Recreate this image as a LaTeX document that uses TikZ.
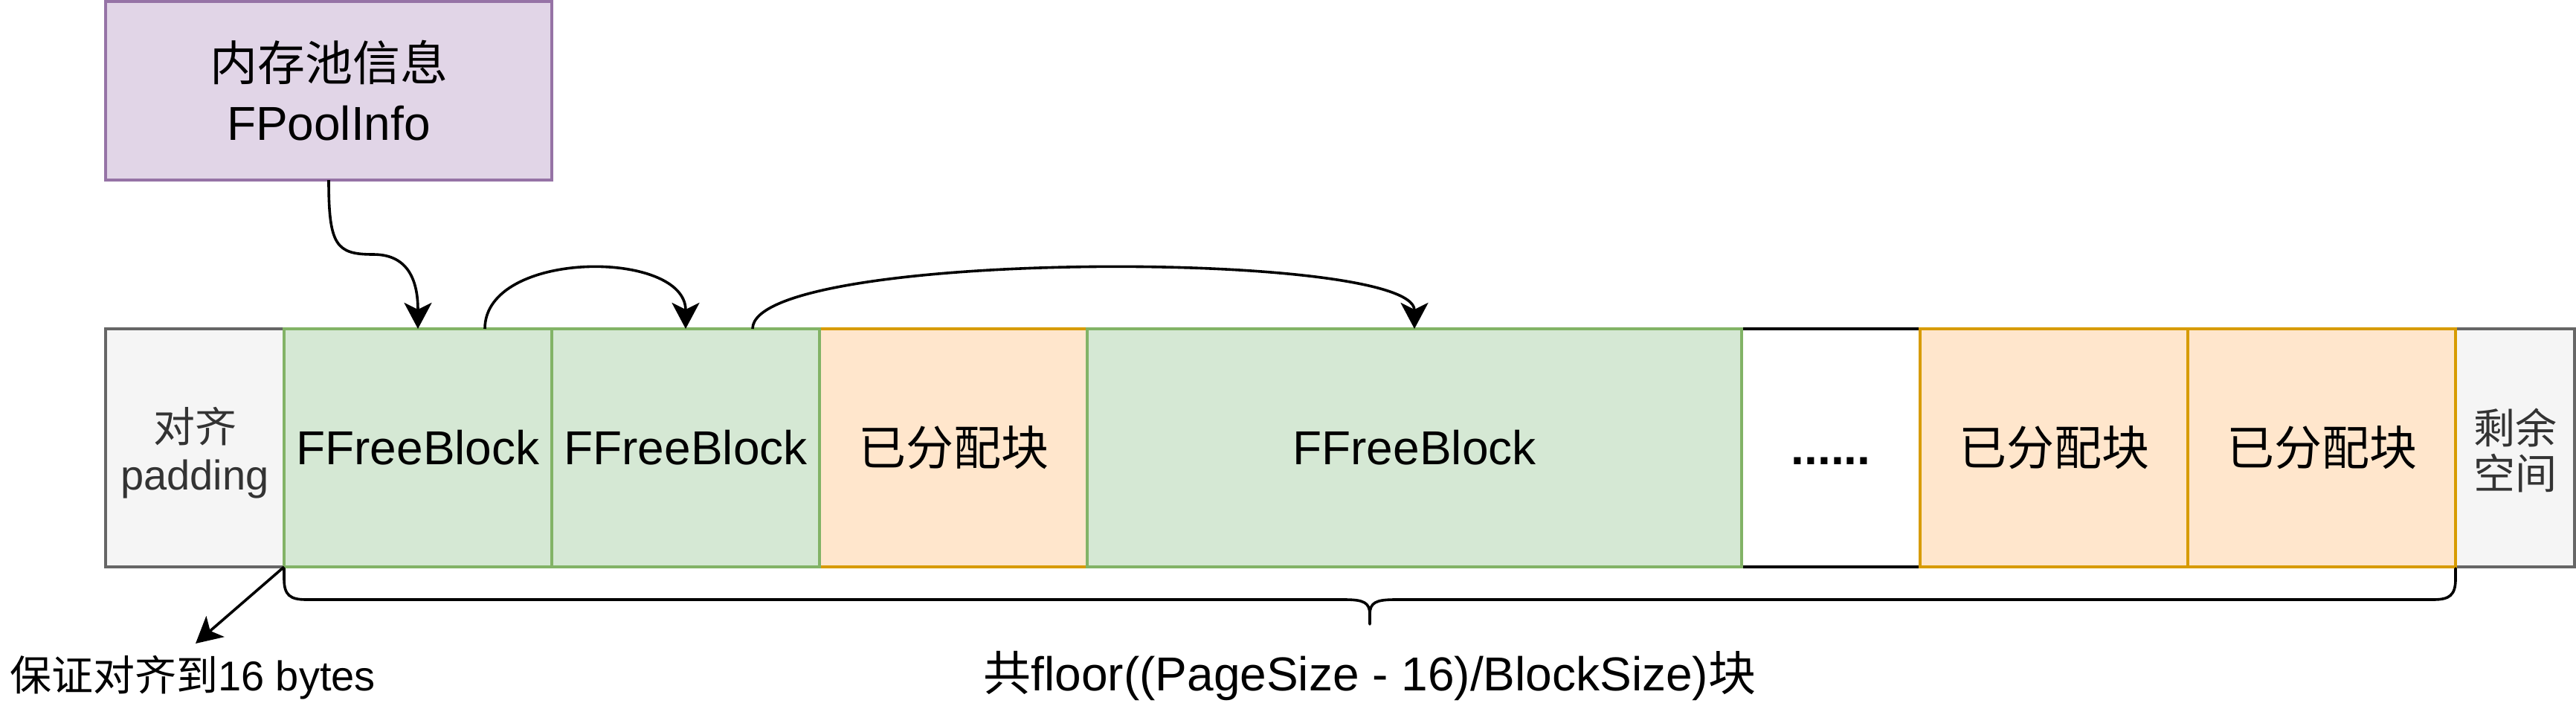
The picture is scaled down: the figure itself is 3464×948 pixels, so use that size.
\documentclass[tikz,border=0pt]{standalone}
\usepackage{fontspec}
\setmainfont{Liberation Sans}
\newfontfamily\cjk{Noto Sans CJK SC}
\usetikzlibrary{arrows.meta,calc}
\definecolor{pfill}{HTML}{E1D5E7}
\definecolor{pline}{HTML}{9673A6}
\definecolor{gfill}{HTML}{D5E8D4}
\definecolor{gline}{HTML}{82B366}
\definecolor{ofill}{HTML}{FFE6CC}
\definecolor{oline}{HTML}{D79B00}
\definecolor{sfill}{HTML}{F5F5F5}
\definecolor{sline}{HTML}{666666}
\definecolor{stext}{HTML}{333333}
\begin{document}
\begin{tikzpicture}[x=1pt,y=-1pt,
  cellbox/.style={draw, line width=4pt, inner sep=0pt, outer sep=0pt, anchor=north west, minimum height=320pt},
  freeblk/.style={cellbox, fill=gfill, draw=gline, minimum width=#1, font=\fontsize{64}{77}\selectfont},
  freeblk/.default=360pt,
  usedblk/.style={cellbox, fill=ofill, draw=oline, minimum width=360pt, font=\cjk\fontsize{64}{77}\selectfont},
  padblk/.style={cellbox, fill=sfill, draw=sline, text=stext, align=center, minimum width=#1},
  dotsblk/.style={cellbox, fill=white, draw=black, minimum width=240pt, font=\fontsize{64}{77}\selectfont\bfseries, text height=44pt, text depth=0pt},
  infoblk/.style={draw=pline, fill=pfill, line width=4pt, inner sep=0pt, outer sep=0pt, anchor=north west, minimum width=600pt, minimum height=240pt, align=center, font=\fontsize{64}{80}\selectfont},
  conn/.style={line width=3.6pt, -{Stealth[length=35pt,width=37pt,inset=9pt]}},
  bracepath/.style={line width=3.6pt, line cap=round, line join=round},
  lbl/.style={inner sep=0pt, anchor=base}
]
\useasboundingbox (0,0) rectangle (3464,948);

% memory pool info
\node[infoblk] (info) at (142,2) {{\cjk 内存池信息}\\FPoolInfo};

% row of blocks (drawing order matters for shared borders)
\node[dotsblk] (dots) at (2342,442) {......};
\node[padblk=240pt, font=\fontsize{56}{64}\selectfont] (pad) at (142,442) {\rule{0pt}{60pt}{\cjk 对齐}\\padding};
\node[padblk=160pt, font=\cjk\fontsize{56}{61}\selectfont] (rest) at (3302,442) {\rule{0pt}{54pt}剩余\\空间};
\node[usedblk] (u1) at (1102,442) {已分配块};
\node[usedblk] (u2) at (2582,442) {已分配块};
\node[usedblk] (u3) at (2942,442) {已分配块};
\node[freeblk] (f1) at (382,442) {FFreeBlock};
\node[freeblk] (f2) at (742,442) {FFreeBlock};
\node[freeblk=880pt] (f3) at (1462,442) {FFreeBlock};

% free list connectors
\coordinate (m1) at ($(info.south)!0.5!(f1.north)$);
\draw[conn] (info.south) .. controls +(0,88) and +(-50,0) .. (m1)
  .. controls +(50,0) and +(0,-60) .. (f1.north);
\coordinate (s2) at ($(f1.north west)!0.75!(f1.north east)$);
\draw[conn] (s2) .. controls +(0,-107) and +(0,-107) .. (f2.north);
\coordinate (s3) at ($(f2.north west)!0.75!(f2.north east)$);
\draw[conn] (s3) .. controls +(0,-107) and +(0,-107) .. (f3.north);

% alignment note
\node[lbl, font=\fontsize{56}{67}\selectfont] (note) at (259,928) {{\cjk 保证对齐到}16 bytes};
\coordinate (notetip) at (263,865);
\draw[conn] (f1.south west) -- (notetip);

% brace
\coordinate (bl) at (382,764);
\coordinate (br) at (3302,764);
\coordinate (bm) at (1842,839);
\draw[bracepath] (bl) -- (382,778) .. controls (382,800) and (390,806) .. (412,806)
  -- (1808,806) .. controls (1834,806) and (1842,810) .. (1842,826) -- (bm);
\draw[bracepath] (1842,826) .. controls (1842,810) and (1850,806) .. (1876,806)
  -- (3272,806) .. controls (3294,806) and (3302,800) .. (3302,778) -- (br);

\node[lbl, font=\fontsize{64}{77}\selectfont] (count) at (1842,928) {{\cjk 共}floor((PageSize - 16)/BlockSize){\cjk 块}};
\end{tikzpicture}
\end{document}
